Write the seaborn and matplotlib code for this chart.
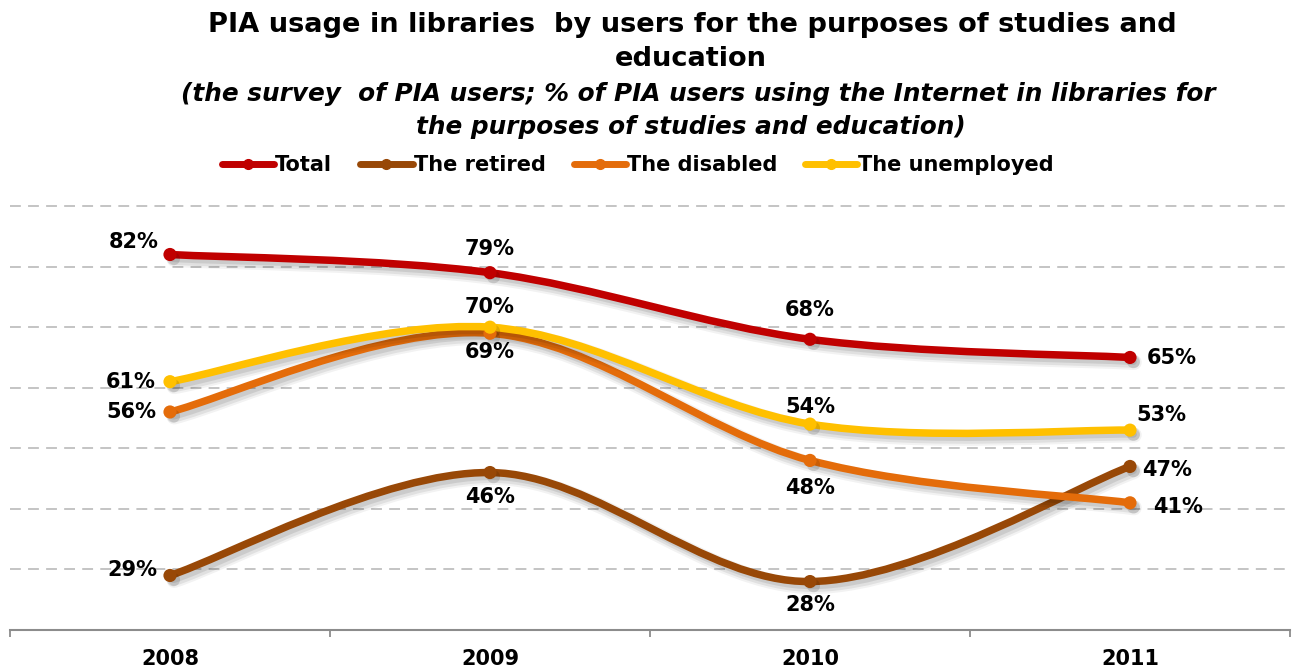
import numpy as np
import pandas as pd
import matplotlib
matplotlib.use("Agg")
import matplotlib.pyplot as plt
import seaborn as sns
from matplotlib.path import Path
from matplotlib.patches import PathPatch
from matplotlib.lines import Line2D
import matplotlib.patheffects as pe

# ---- data -------------------------------------------------------------
years = ["2008", "2009", "2010", "2011"]
total = [82, 79, 68, 65]
retired = [29, 46, 28, 47]
disabled = [56, 69, 48, 41]
unemployed = [61, 70, 54, 53]

series_names = ["Total", "The retired", "The disabled", "The unemployed"]
series_values = [total, retired, disabled, unemployed]
colors = ["#C00000", "#984807", "#E46C0A", "#FFC000"]

# label placement per point: (dx px, dy px, horizontal alignment)
label_layout = [
    [(-11, 13, "right"), (0, 24, "center"), (0, 29, "center"), (17, -1, "left")],
    [(-13, 5, "right"), (0, -24, "center"), (0, -23, "center"), (12, -4, "left")],
    [(-14, 0, "right"), (0, -19, "center"), (0, -28, "center"), (23, -4, "left")],
    [(-14, 0, "right"), (0, 20, "center"), (0, 17, "center"), (6, 15, "left")],
]

sns.set_theme(style="white")
plt.rcParams["font.family"] = ["DejaVu Sans"]
plt.rcParams["text.color"] = "black"
plt.rcParams["xtick.color"] = "black"

fig = plt.figure(figsize=(12.95, 6.72), dpi=100)
ax = fig.add_axes([10 / 1295, 42 / 672, 1280 / 1295, 430 / 672])
ax.set_xlim(-0.5, 3.5)
ax.set_ylim(20, 91)


def smooth_path(xs, ys):
    """Cubic Bezier path through the points (Catmull-Rom style smoothing)."""
    pts = np.column_stack([xs, ys]).astype(float)
    n = len(pts)
    verts = [pts[0]]
    codes = [Path.MOVETO]
    for i in range(n - 1):
        p0 = pts[i - 1] if i > 0 else pts[i]
        p1 = pts[i]
        p2 = pts[i + 1]
        p3 = pts[i + 2] if i + 2 < n else pts[i + 1]
        verts += [p1 + (p2 - p0) / 6.0, p2 - (p3 - p1) / 6.0, p2]
        codes += [Path.CURVE4] * 3
    return Path(verts, codes)


# soft drop shadow built from a few translucent, widening strokes
shadow = [
    pe.SimpleLineShadow(offset=(3, -3.5), shadow_color="black", alpha=0.05, linewidth=11),
    pe.SimpleLineShadow(offset=(3, -3.5), shadow_color="black", alpha=0.07, linewidth=8),
    pe.SimpleLineShadow(offset=(2.5, -3), shadow_color="black", alpha=0.09, linewidth=5),
    pe.Normal(),
]

xpos = np.arange(len(years))
long_rows = []
for k, (name, vals, col) in enumerate(zip(series_names, series_values, colors)):
    patch = PathPatch(smooth_path(xpos, vals), facecolor="none", edgecolor=col,
                      linewidth=5.4, capstyle="round", joinstyle="round", zorder=3 + k)
    patch.set_path_effects(shadow)
    ax.add_patch(patch)
    for x, v in zip(xpos, vals):
        long_rows.append({"x": x, "value": v, "series": name})

df = pd.DataFrame(long_rows)
sns.scatterplot(data=df, x="x", y="value", hue="series", palette=colors,
                hue_order=series_names, s=90, linewidth=0, legend=False,
                ax=ax, zorder=10)
for coll in ax.collections:
    coll.set_path_effects([pe.SimplePatchShadow(offset=(2.5, -3), shadow_rgbFace="black",
                                                alpha=0.12), pe.Normal()])

# value labels
for vals, layout in zip(series_values, label_layout):
    for x, v, (dx, dy, ha) in zip(xpos, vals, layout):
        ax.annotate(f"{v}%", (x, v), xytext=(dx, dy), textcoords="offset pixels",
                    ha=ha, va="center", fontsize=15, fontweight="bold",
                    color="black", zorder=20)

# axes styling
ax.set_yticks([30, 40, 50, 60, 70, 80, 90])
ax.set_yticklabels([])
ax.grid(axis="y", color="#BFBFBF", linestyle=(0, (6, 4)), linewidth=1.3)
ax.tick_params(axis="y", length=0)
for side in ["top", "left", "right"]:
    ax.spines[side].set_visible(False)
ax.spines["bottom"].set_color("#8C8C8C")
ax.spines["bottom"].set_linewidth(1.5)
ax.set_xticks(xpos)
ax.set_xticklabels(years, fontsize=15, fontweight="bold")
ax.tick_params(axis="x", which="major", length=0, pad=14, bottom=False)
ax.set_xticks(np.arange(-0.5, 4.0, 1.0), minor=True)
ax.tick_params(axis="x", which="minor", length=5, width=1.3, color="#8C8C8C",
               direction="out", bottom=True)
ax.set_xlabel("")
ax.set_ylabel("")

# titles
fig.text(0.5344, 1 - 25 / 672, "PIA usage in libraries  by users for the purposes of studies and",
         ha="center", va="center", fontsize=19.6, fontweight="bold")
fig.text(0.5336, 1 - 59 / 672, "education", ha="center", va="center",
         fontsize=19.6, fontweight="bold")
fig.text(0.539, 1 - 94 / 672,
         "(the survey  of PIA users; % of PIA users using the Internet in libraries for",
         ha="center", va="center", fontsize=17.8, fontweight="bold", style="italic")
fig.text(0.5336, 1 - 127 / 672, "the purposes of studies and education)",
         ha="center", va="center", fontsize=17.8, fontweight="bold", style="italic")

# legend
handles = [Line2D([0], [0], color=c, lw=5, marker="o", ms=7) for c in colors]
fig.legend(handles, series_names, loc="center", bbox_to_anchor=(0.4927, 1 - 165 / 672),
           ncol=4, frameon=False, handlelength=2.5, handletextpad=0.05,
           columnspacing=1.35, prop={"size": 15, "weight": "bold"})

fig.savefig("out.png", dpi=100, facecolor="white")
